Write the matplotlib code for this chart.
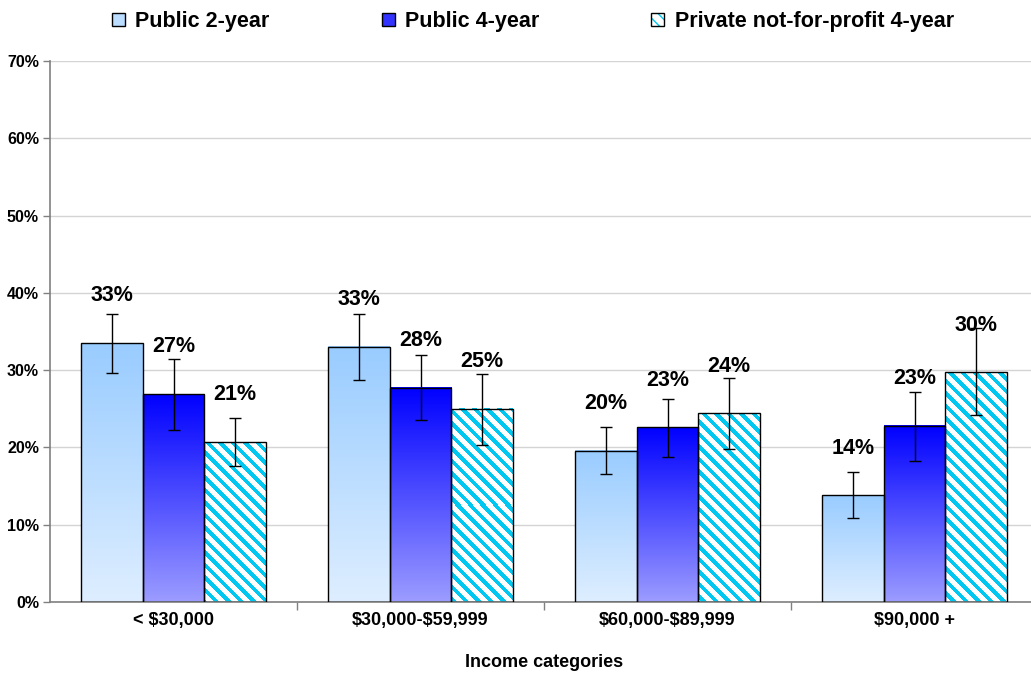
import numpy as np
import matplotlib
matplotlib.use("Agg")
import matplotlib.pyplot as plt
from matplotlib.patches import Patch
from matplotlib.legend_handler import HandlerTuple
from matplotlib.ticker import PercentFormatter

plt.rcParams['font.family'] = ['Liberation Sans', 'DejaVu Sans']
plt.rcParams['font.weight'] = 'bold'
plt.rcParams['text.parse_math'] = False

categories = ["< $30,000", "$30,000-$59,999", "$60,000-$89,999", "$90,000 +"]
series = ["Public 2-year", "Public 4-year", "Private not-for-profit 4-year"]

public2 = [33.5, 33.0, 19.6, 13.8]
public2_lo = [29.6, 28.7, 16.6, 10.9]
public2_hi = [37.3, 37.2, 22.6, 16.8]

public4 = [26.9, 27.7, 22.6, 22.8]
public4_lo = [22.3, 23.5, 18.8, 18.2]
public4_hi = [31.5, 32.0, 26.3, 27.2]

private4 = [20.7, 25.0, 24.4, 29.7]
private4_lo = [17.6, 20.3, 19.8, 24.2]
private4_hi = [23.8, 29.5, 29.0, 35.4]

labels = [["33%", "33%", "20%", "14%"],
          ["27%", "28%", "23%", "23%"],
          ["21%", "25%", "24%", "30%"]]

W, H = 1031, 677
fig = plt.figure(figsize=(W / 100, H / 100), dpi=100)
ax = fig.add_axes([50 / W, 75 / H, 988 / W, 541 / H])
ax.set_xlim(-0.5, 3.5)
ax.set_ylim(0, 70)

width = 0.249
x = np.arange(len(categories))
values = [public2, public4, private4]
lows = [public2_lo, public4_lo, private4_lo]
highs = [public2_hi, public4_hi, private4_hi]
grads = [("#99CCFF", "#DEEEFF"), ("#0000FF", "#9C9CFF"), None]
cyan = np.array([0, 200, 240]) / 255


def gradient(top, bottom):
    t = np.array(matplotlib.colors.to_rgb(top))
    b = np.array(matplotlib.colors.to_rgb(bottom))
    f = np.linspace(0, 1, 256)[:, None]
    return (t * (1 - f) + b * f)[:, None, :]


def stripes(x0, x1, y1):
    # pattern in pixel space so the stripes stay at 45 degrees
    p0 = ax.transData.transform((x0, y1))
    p1 = ax.transData.transform((x1, 0))
    w = int(round(p1[0] - p0[0]))
    h = int(round(p0[1] - p1[1]))
    cols = np.arange(w)[None, :] + int(round(p0[0]))
    rows = np.arange(h)[:, None] + int(round(H - p0[1]))
    period = 12.5
    m = ((cols - rows) % period) < period * 0.42
    img = np.ones((h, w, 3))
    img[m] = cyan
    return img


for i in range(3):
    xs = x + (i - 1) * width
    for j, (xc, v) in enumerate(zip(xs, values[i])):
        x0, x1 = xc - width / 2, xc + width / 2
        if grads[i] is not None:
            img = gradient(*grads[i])
            interp = "bilinear"
        else:
            img = stripes(x0, x1, v)
            interp = "nearest"
        ax.imshow(img, extent=[x0, x1, 0, v], aspect="auto",
                  interpolation=interp, zorder=2)
    ax.bar(xs, values[i], width, facecolor="none", edgecolor="black",
           linewidth=1, zorder=3)
    err = [np.array(values[i]) - np.array(lows[i]),
           np.array(highs[i]) - np.array(values[i])]
    ax.errorbar(xs, values[i], yerr=err, fmt="none", ecolor="black",
                elinewidth=1, capsize=4.5, capthick=1, zorder=4)
    for xc, v, lab in zip(xs, values[i], labels[i]):
        ax.text(xc, v + 6.1, lab, ha="center", va="center", fontsize=15.5,
                fontweight="bold", zorder=5)

ax.set_xlim(-0.5, 3.5)
ax.set_ylim(0, 70)

ax.set_yticks(np.arange(0, 71, 10))
ax.yaxis.set_major_formatter(PercentFormatter(decimals=0))
ax.grid(axis="y", color="#D4D4D4", linewidth=1, zorder=0)
ax.set_axisbelow(True)
ax.tick_params(axis="y", length=5, width=1, color="#808080", labelsize=11.5, pad=3)

ax.set_xticks(x)
ax.set_xticklabels(categories, fontsize=13)
ax.set_xticks([0.5, 1.5, 2.5], minor=True)
ax.tick_params(axis="x", which="major", length=0, pad=7)
ax.tick_params(axis="x", which="minor", length=6, width=1, color="#808080")
ax.set_xlabel("Income categories", fontsize=13, fontweight="bold", labelpad=18)

for s in ["top", "right"]:
    ax.spines[s].set_visible(False)
for s in ["left", "bottom"]:
    ax.spines[s].set_color("#808080")
    ax.spines[s].set_linewidth(1.2)

h1 = Patch(facecolor="#BBDDFF", edgecolor="black", linewidth=1)
h2 = Patch(facecolor="#3333FF", edgecolor="black", linewidth=1)
h3 = (Patch(facecolor="white", edgecolor=cyan, hatch="\\\\\\", linewidth=0),
      Patch(facecolor="none", edgecolor="black", linewidth=1))
fig.legend([h1, h2, h3], series, loc="upper center",
           bbox_to_anchor=(533 / W, 1.012), ncol=3, frameon=False,
           fontsize=15.5, handlelength=0.6, handleheight=0.6, handletextpad=0.5,
           columnspacing=5.2, handler_map={tuple: HandlerTuple(ndivide=1)})

fig.savefig("out.png", dpi=100)
